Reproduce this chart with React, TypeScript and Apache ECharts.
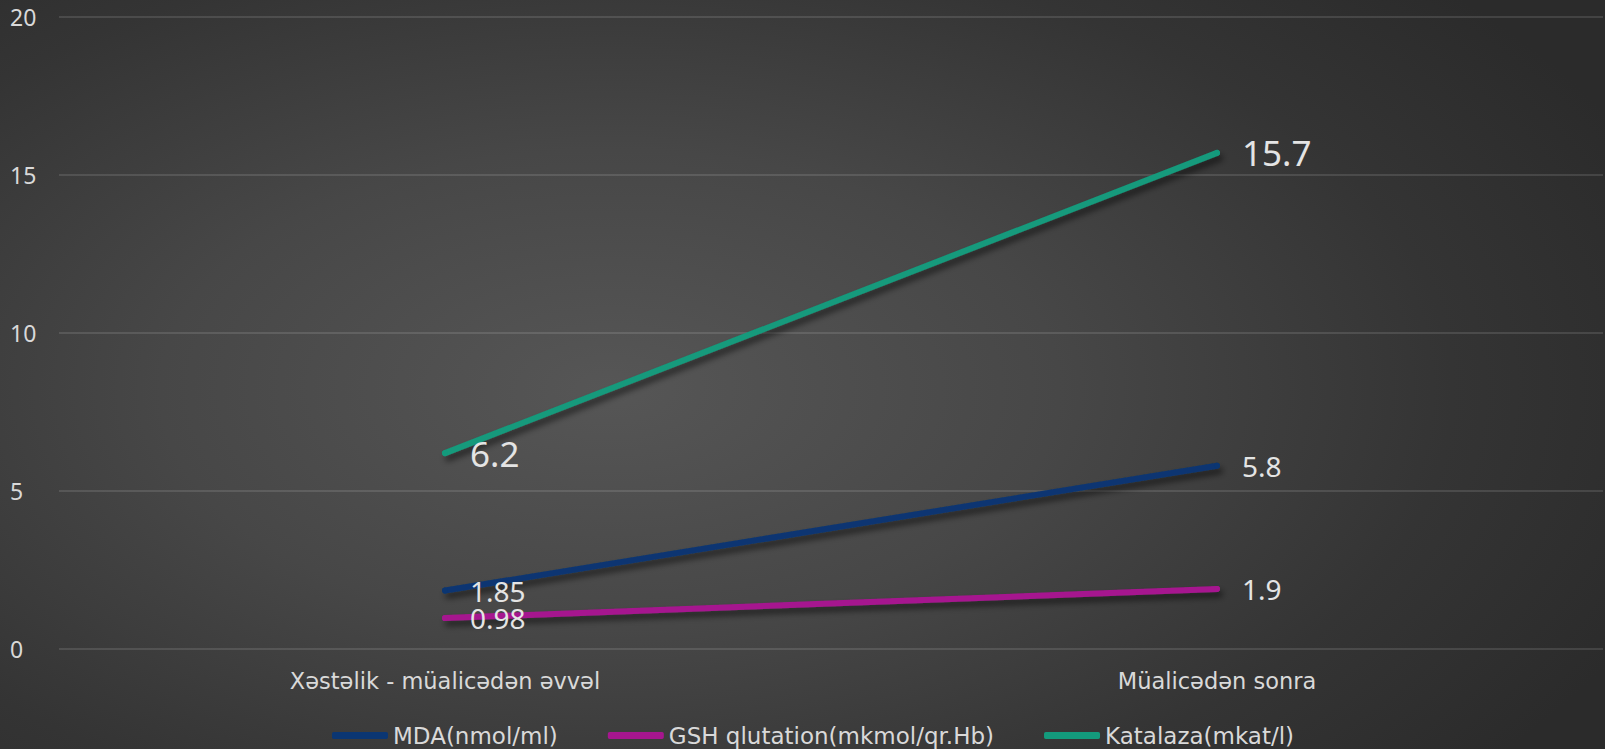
import React, { useEffect, useRef } from "react";
import * as echarts from "echarts";

const categories = ["Xəstəlik - müalicədən əvvəl", "Müalicədən sonra"];
const mdaValues = [1.85, 5.8];
const gshValues = [0.98, 1.9];
const katalazaValues = [6.2, 15.7];
const seriesNames = ["MDA(nmol/ml)", "GSH qlutation(mkmol/qr.Hb)", "Katalaza(mkat/l)"];
const yMin = 0;
const yMax = 20;
const yInterval = 5;

const FONT = "'Noto Sans', sans-serif";
const WIDE = "'DejaVu Sans', sans-serif";
const TEXT = "#d9d9d9";

export default function App() {
  const ref = useRef<HTMLDivElement>(null);
  useEffect(() => {
    if (!ref.current) return;
    const chart = echarts.init(ref.current, undefined, { renderer: "svg" });
    const mkSeries = (name: string, data: number[], color: string, labelSize: number) => ({
      name,
      type: "line",
      data,
      symbol: "circle",
      symbolSize: 6,
      itemStyle: { color },
      lineStyle: {
        color,
        width: 6,
        cap: "round",
        shadowColor: "rgba(0,0,0,0.55)",
        shadowBlur: 6,
        shadowOffsetX: 3,
        shadowOffsetY: 5,
      },
      label: {
        show: true,
        position: "right",
        distance: 22,
        color: "#e4e4e4",
        fontSize: labelSize,
        fontFamily: FONT,
      },
      emphasis: { disabled: true },
    });
    chart.setOption({
      animation: false,
      backgroundColor: "transparent",
      textStyle: { fontFamily: FONT },
      grid: { left: 59, right: 2, top: 17, bottom: 100, containLabel: false },
      legend: {
        data: seriesNames,
        left: 327,
        top: 719,
        icon: "roundRect",
        itemWidth: 56,
        itemHeight: 7,
        itemGap: 50,
        textStyle: { color: TEXT, fontSize: 23, fontFamily: WIDE },
      },
      xAxis: {
        type: "category",
        data: categories,
        boundaryGap: true,
        axisLine: { show: false },
        axisTick: { show: false },
        axisLabel: { color: TEXT, fontSize: 22.5, margin: 20, fontFamily: WIDE },
      },
      yAxis: {
        type: "value",
        min: yMin,
        max: yMax,
        interval: yInterval,
        axisLine: { show: false },
        axisTick: { show: false },
        axisLabel: { color: TEXT, fontSize: 23, align: "left", margin: 49, fontFamily: FONT },
        splitLine: { lineStyle: { color: "rgba(255,255,255,0.16)", width: 1.5 } },
      },
      series: [
        mkSeries(seriesNames[0], mdaValues, "#0b3672", 28),
        mkSeries(seriesNames[1], gshValues, "#a6168f", 28),
        mkSeries(seriesNames[2], katalazaValues, "#139a7c", 35),
      ],
    });
    return () => chart.dispose();
  }, []);
  return (
    <div
      style={{
        position: "absolute",
        left: 0,
        top: 0,
        width: 1605,
        height: 749,
        background:
          "radial-gradient(ellipse 70% 80% at 38% 52%, #565656 0%, #474747 40%, #343434 75%, #2b2b2b 100%)",
      }}
    >
      <div ref={ref} style={{ width: 1605, height: 749 }} />
    </div>
  );
}
